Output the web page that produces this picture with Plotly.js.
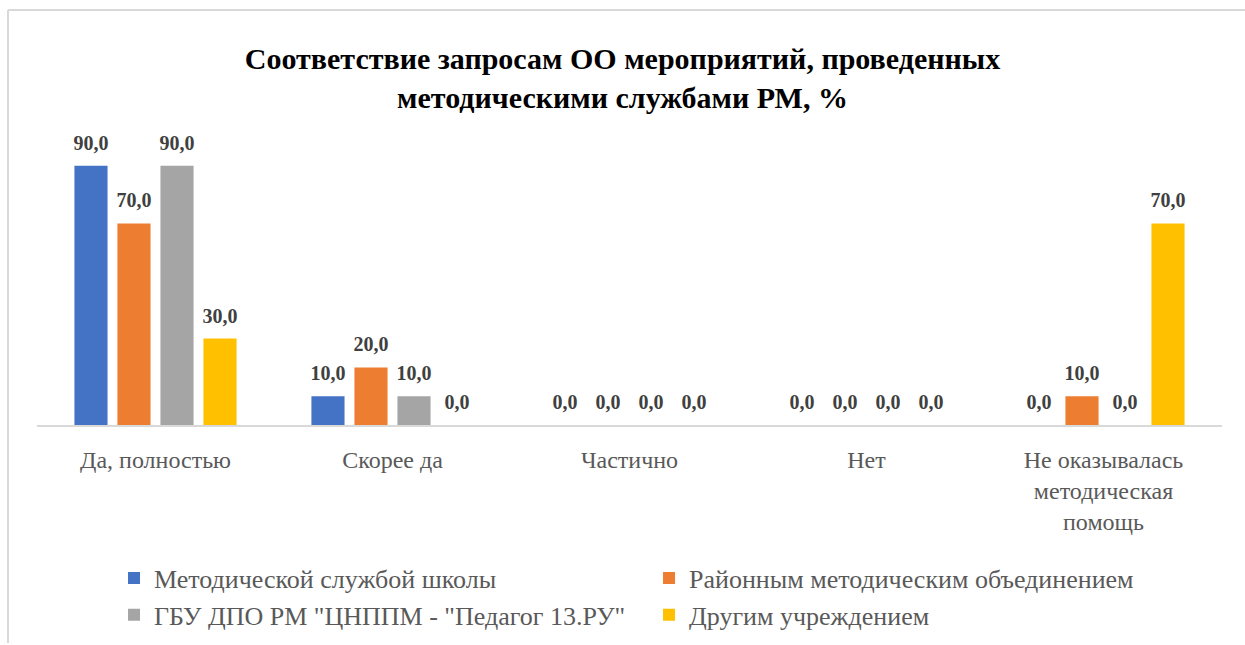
<!DOCTYPE html>
<html>
<head>
<meta charset="utf-8">
<script src="https://cdn.plot.ly/plotly-3.0.1.min.js"></script>
<style>
html,body{margin:0;padding:0;background:#fff;}
#chart{width:1245px;height:645px;}
</style>
</head>
<body>
<div id="chart"></div>
<script>
const categories = ["Да, полностью", "Скорее да", "Частично", "Нет", "Не оказывалась<br>методическая<br>помощь"];
const seriesNames = ["Методической службой школы", "Районным методическим объединением", "ГБУ ДПО РМ \"ЦНППМ - \"Педагог 13.РУ\"", "Другим учреждением"];
const school = [90, 10, 0, 0, 0];
const district = [70, 20, 0, 0, 10];
const gbu = [90, 10, 0, 0, 0];
const other = [30, 0, 0, 0, 70];
const colors = ["#4472C4", "#ED7D31", "#A5A5A5", "#FFC000"];

const serif = "Liberation Serif, Times New Roman, serif";
const seriesValues = [school, district, gbu, other];

const barTraces = seriesValues.map((vals, i) => ({
  type: 'bar',
  name: seriesNames[i],
  x: categories,
  y: vals,
  marker: {color: colors[i]},
  hoverinfo: 'none'
}));

const labelTraces = seriesValues.map((vals, i) => ({
  type: 'scatter',
  mode: 'markers+text',
  showlegend: false,
  x: categories,
  y: vals,
  marker: {size: 16, opacity: 0, color: colors[i]},
  text: vals.map(v => v.toFixed(1).replace('.', ',')),
  textposition: 'top center',
  cliponaxis: false,
  textfont: {family: serif, size: 20, color: '#404040', weight: 'bold'},
  hoverinfo: 'none'
}));

const layout = {
  width: 1245, height: 645,
  margin: {l: 37, r: 23, t: 137, b: 220, autoexpand: false},
  paper_bgcolor: '#fff', plot_bgcolor: '#fff',
  font: {family: serif},
  barmode: 'group',
  bargap: 0.274,
  bargroupgap: 0.23,
  scattermode: 'group',
  scattergap: 0.274,
  title: {
    text: '<b>Соответствие запросам ОО мероприятий, проведенных<br>методическими службами РМ, %</b>',
    font: {family: serif, size: 30, color: '#000'},
    x: 0.5, xanchor: 'center', y: 0.893, yanchor: 'top'
  },
  xaxis: {
    tickfont: {family: serif, size: 24, color: '#595959'},
    showline: true, linecolor: '#D9D9D9', linewidth: 2,
    ticks: '', showgrid: false, zeroline: false,
    ticklabelstandoff: 12
  },
  yaxis: {
    range: [0, 100], visible: false, showgrid: false, zeroline: false
  },
  showlegend: true,
  legend: {
    orientation: 'h',
    x: 0.065, xanchor: 'left',
    y: -0.45, yanchor: 'top',
    entrywidth: 490, entrywidthmode: 'pixels',
    font: {family: serif, size: 26, color: '#595959'},
    traceorder: 'normal',
    itemwidth: 30,
    tracegroupgap: 0
  },
  shapes: [
    {type: 'line', xref: 'paper', yref: 'paper', x0: (8-37)/1185, x1: (8-37)/1185, y0: (425-10)/288, y1: (425-643)/288, line: {color: '#D9D9D9', width: 2}},
    {type: 'line', xref: 'paper', yref: 'paper', x0: (8-37)/1185, x1: (1250-37)/1185, y0: (425-10)/288, y1: (425-10)/288, line: {color: '#D9D9D9', width: 2}}
  ]
};

Plotly.newPlot('chart', barTraces.concat(labelTraces), layout, {displayModeBar: false, staticPlot: true});
</script>
</body>
</html>
